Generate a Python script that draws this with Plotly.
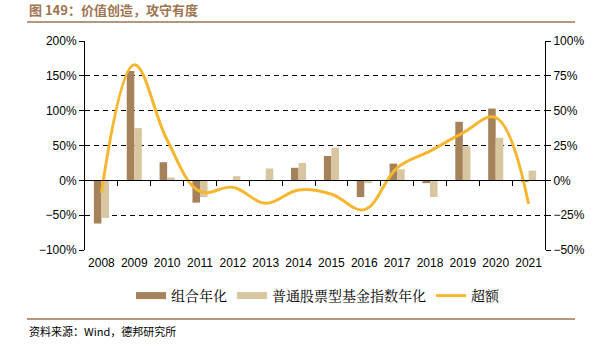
import plotly.graph_objects as go

years = list(range(2008, 2022))
portfolio = [-62, 157, 26, -32, 0, 0, 18, 35, -24, 24, -4, 84, 103, -2]
fund_index = [-54, 75, 4, -24, 6, 17, 25, 47, -4, 16, -24, 49, 61, 14]
excess = [-9, 83, 29, -8, -5, -16.5, -7, -10, -21, 9, 21, 34, 45, -17]

left_ticks = [-100, -50, 0, 50, 100, 150, 200]
right_ticks = [-50, -25, 0, 25, 50, 75, 100]

C_DARK = "#A6825B"
C_LIGHT = "#D8C6A0"
C_LINE = "#F6B630"
C_BROWN = "#9E7550"

L, R, T, B = 85, 56, 41, 104
W, H = 601, 354
PW, PH = W - L - R, H - T - B


def px(x):
    return (x - L) / PW


def py(y):
    return (H - B - y) / PH


def pct(v):
    return f"{v}%".replace("-", "\u2212")


fig = go.Figure()
fig.add_trace(go.Bar(x=years, y=portfolio, name="组合年化", marker_color=C_DARK,
                     marker_line_width=0, showlegend=False))
fig.add_trace(go.Bar(x=years, y=fund_index, name="普通股票型基金指数年化", marker_color=C_LIGHT,
                     marker_line_width=0, showlegend=False))
fig.add_trace(go.Scatter(x=years, y=excess, name="超额", yaxis="y2", mode="lines",
                         line=dict(color=C_LINE, width=3, shape="spline", smoothing=1.1),
                         showlegend=False))

# legend entries (wide rectangular swatches like the reference)
for name, col, w in [("组合年化", C_DARK, 7), ("普通股票型基金指数年化", C_LIGHT, 7), ("超额", C_LINE, 3)]:
    fig.add_trace(go.Scatter(x=[None], y=[None], mode="lines", name=name,
                             line=dict(color=col, width=w), showlegend=True, hoverinfo="skip"))

tickfont = dict(family="Liberation Sans, Arial", size=12, color="#000")

fig.update_layout(
    width=W, height=H,
    margin=dict(l=L, r=R, t=T, b=B),
    paper_bgcolor="white", plot_bgcolor="white",
    barmode="group", bargap=0.54, bargroupgap=0,
    showlegend=True,
    legend=dict(orientation="h", x=px(318), xanchor="center", y=py(296), yanchor="middle",
                font=dict(family="Noto Serif CJK SC, Noto Sans CJK SC", size=14, color="#000"),
                itemwidth=30, tracegroupgap=0, bgcolor="rgba(0,0,0,0)"),
    xaxis=dict(range=[2007.5, 2021.5], tickvals=years, ticktext=[str(y) for y in years],
               showgrid=False, zeroline=False, showline=False, ticks="",
               tickfont=tickfont, ticklabelstandoff=4),
    xaxis2=dict(range=[2007.5, 2021.5], overlaying="x", anchor="free", position=1 / 3,
                tickvals=[y + 0.5 for y in years[:-1]], showticklabels=False,
                ticks="outside", ticklen=5, tickcolor="#000", showline=True,
                linecolor="#000", linewidth=1, showgrid=False, zeroline=False),
    yaxis=dict(range=[-100, 200], tickvals=left_ticks, ticktext=[pct(v) for v in left_ticks],
               showline=True, linecolor="#000", linewidth=1, ticks="outside", ticklen=5,
               tickcolor="#000", showgrid=True, gridcolor="#000", gridwidth=1,
               griddash="5px,4px", zeroline=False, tickfont=tickfont),
    yaxis2=dict(range=[-50, 100], tickvals=right_ticks, ticktext=[pct(v) for v in right_ticks],
                overlaying="y", side="right", showline=True, linecolor="#000", linewidth=1,
                ticks="outside", ticklen=5, tickcolor="#000", showgrid=False, zeroline=False,
                tickfont=tickfont),
)

# invisible trace to activate xaxis2
fig.add_trace(go.Scatter(x=[years[0]], y=[0], xaxis="x2", mode="markers",
                         marker=dict(opacity=0), showlegend=False, hoverinfo="skip"))

fig.add_annotation(text="<b>图 149：价值创造，攻守有度</b>", xref="paper", yref="paper",
                   x=px(27), y=py(9), xanchor="left", yanchor="middle", showarrow=False,
                   font=dict(family="Noto Sans CJK SC", size=13, color=C_BROWN))
fig.add_annotation(text="资料来源：Wind，德邦研究所", xref="paper", yref="paper",
                   x=px(27), y=py(331), xanchor="left", yanchor="middle", showarrow=False,
                   font=dict(family="Noto Sans CJK SC", size=11, color="#000"))
fig.add_shape(type="line", xref="paper", yref="paper", x0=px(27), x1=px(575),
              y0=py(22), y1=py(22), line=dict(color=C_BROWN, width=1.5))
fig.add_shape(type="line", xref="paper", yref="paper", x0=px(27), x1=px(575),
              y0=py(319), y1=py(319), line=dict(color=C_BROWN, width=1.5))

fig.write_html("out.html")
